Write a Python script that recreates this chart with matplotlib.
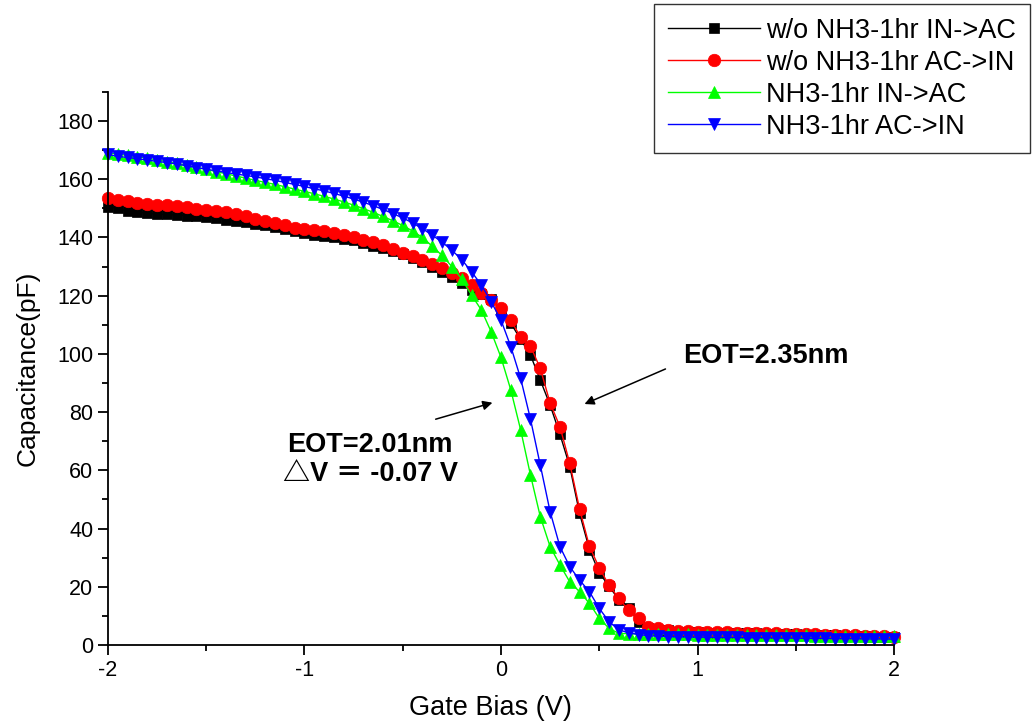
# -*- coding: utf-8 -*-

import numpy as np
import matplotlib
matplotlib.use("Agg")
import matplotlib.pyplot as plt

plt.rcParams['font.family'] = ['Liberation Sans', 'Noto Sans CJK SC', 'DejaVu Sans']
plt.rcParams['axes.unicode_minus'] = False

# gate bias sweep, 0.05 V step
bias = np.round(np.arange(-2.0, 2.0001, 0.05), 2)

wo_in_ac = [150.6, 150.0, 149.0, 148.6, 148.4, 148.0, 147.9, 147.7, 147.5, 147.3,
            147.0, 146.6, 146.0, 145.6, 145.2, 144.6, 144.1, 143.6, 143.0, 142.3,
            141.5, 140.9, 140.5, 140.0, 139.6, 139.0, 138.0, 137.0, 136.2, 135.5,
            134.4, 133.0, 131.5, 129.8, 128.2, 126.3, 124.5, 122.0, 120.5, 118.8,
            115.0, 110.5, 105.0, 99.6, 91.0, 82.4, 72.4, 61.3, 45.2, 32.8,
            24.8, 20.2, 15.5, 12.8, 8.0, 6.0, 5.3, 5.0,
            4.6, 4.5, 4.4, 4.3, 4.3, 4.2, 4.1, 4.0, 4.0, 3.9, 3.8, 3.7, 3.7, 3.6,
            3.5, 3.4, 3.3, 3.2, 3.1, 3.0, 2.9, 2.8, 2.7]

wo_ac_in = [153.4, 153.0, 152.4, 151.8, 151.5, 151.0, 151.2, 150.7, 150.3, 149.6,
            149.3, 149.0, 148.6, 148.0, 147.2, 146.3, 145.5, 144.9, 144.2, 143.4,
            142.9, 142.5, 142.1, 141.6, 140.8, 140.0, 139.2, 138.4, 137.3, 136.0,
            134.6, 133.5, 132.2, 131.0, 129.5, 127.8, 126.0, 123.5, 121.0, 118.5,
            115.6, 111.6, 105.7, 102.7, 95.0, 83.1, 75.0, 62.4, 46.7, 33.9,
            26.5, 20.5, 16.0, 11.9, 9.2, 6.3, 6.0, 5.2,
            4.8, 4.7, 4.6, 4.5, 4.4, 4.4, 4.3, 4.2, 4.1, 4.1, 4.0, 3.9, 3.8, 3.8,
            3.7, 3.6, 3.5, 3.4, 3.3, 3.2, 3.1, 3.0, 2.9]

nh3_in_ac = [169.0, 168.6, 168.2, 167.7, 167.2, 166.6, 166.0, 165.4, 164.8, 164.1,
             163.4, 162.6, 161.9, 161.1, 160.4, 159.6, 158.9, 158.2, 157.4, 156.6,
             155.8, 155.0, 154.1, 153.2, 152.2, 151.1, 149.9, 148.6, 147.2, 145.7,
             144.1, 142.2, 140.0, 137.0, 133.8, 130.0, 125.8, 120.2, 115.1, 107.6,
             98.8, 87.6, 73.9, 58.4, 44.1, 33.8, 27.5, 21.7, 18.3, 14.3,
             9.2, 5.7, 4.0,
             3.9, 3.8, 3.8, 3.8, 3.7, 3.7, 3.7, 3.6, 3.6, 3.6, 3.5, 3.5, 3.5, 3.4,
             3.4, 3.4, 3.3, 3.3, 3.3, 3.2, 3.2, 3.2, 3.1, 3.1, 3.1, 3.0, 3.0, 3.0]

nh3_ac_in = [168.5, 167.8, 167.5, 167.0, 166.6, 166.1, 165.7, 165.2, 164.6, 164.0,
             163.4, 162.9, 162.3, 161.8, 161.3, 160.8, 160.2, 159.6, 158.9, 158.2,
             157.5, 156.7, 156.0, 155.1, 154.2, 153.2, 152.1, 150.9, 149.6, 148.2,
             146.7, 145.0, 143.0, 140.8, 138.4, 135.6, 132.4, 128.2, 123.7, 117.9,
             111.6, 102.5, 91.6, 77.6, 61.8, 45.8, 33.8, 26.9, 22.3, 18.3,
             12.6, 8.0, 5.2,
             4.2, 3.6, 3.2, 3.0, 2.9, 2.8, 2.8, 2.7, 2.7, 2.6, 2.6, 2.6, 2.5, 2.5,
             2.5, 2.4, 2.4, 2.4, 2.3, 2.3, 2.3, 2.2, 2.2, 2.2, 2.1, 2.1, 2.1, 2.0]

labels = ["w/o NH3-1hr IN->AC", "w/o NH3-1hr AC->IN", "NH3-1hr IN->AC", "NH3-1hr AC->IN"]
colors = ["black", "#ff0000", "#00ff00", "#0000ff"]
markers = ["s", "o", "^", "v"]
sizes = [7.5, 9, 9, 9]

fig = plt.figure(figsize=(10.35, 7.25), dpi=100)
ax = fig.add_axes([0.1043, 0.1103, 0.7595, 0.763])

for ys, lab, c, m, s in zip([wo_in_ac, wo_ac_in, nh3_in_ac, nh3_ac_in], labels, colors, markers, sizes):
    ax.plot(bias, ys, color=c, lw=1, marker=m, ms=s, mfc=c, mec=c, mew=0.5,
            label=lab, clip_on=False)

ax.set_xlim(-2, 2)
ax.set_ylim(0, 190)
ax.set_xticks([-2, -1, 0, 1, 2])
ax.set_xticks([-1.5, -0.5, 0.5, 1.5], minor=True)
ax.set_yticks(np.arange(0, 181, 20))
ax.set_yticks(np.arange(10, 191, 20), minor=True)
ax.tick_params(which='major', direction='out', length=7, width=1.3, labelsize=15.5)
ax.tick_params(which='minor', direction='out', length=4, width=1.3)
ax.spines['top'].set_visible(False)
ax.spines['right'].set_visible(False)
ax.spines['left'].set_linewidth(1.3)
ax.spines['bottom'].set_linewidth(1.3)

ax.set_xlabel("Gate Bias (V)", fontsize=19.5, labelpad=10)
ax.xaxis.set_label_coords(0.486, -0.09)
ax.set_ylabel("Capacitance(pF)", fontsize=19, labelpad=13)

# annotations
ax.annotate("", xy=(0.412, 82.4), xytext=(0.85, 95.2),
            arrowprops=dict(arrowstyle="-|>", color="black", lw=1.1, mutation_scale=14))
ax.annotate("", xy=(-0.03, 83.5), xytext=(-0.346, 77.3),
            arrowprops=dict(arrowstyle="-|>", color="black", lw=1.1, mutation_scale=14))
ax.text(0.926, 99.3, "EOT=2.35nm", fontsize=19.5, fontweight='bold', va='center', ha='left')
ax.text(-1.089, 68.6, "EOT=2.01nm", fontsize=19.5, fontweight='bold', va='center', ha='left')
ax.text(-1.109, 58.6, "\u25b3V \uff1d -0.07 V", fontsize=19.5, fontweight='bold', va='center', ha='left')

leg = fig.legend(loc='upper right', bbox_to_anchor=(0.995, 0.994), fontsize=19.5,
                 frameon=True, fancybox=False, edgecolor='black', handlelength=3.4,
                 handletextpad=0.25, labelspacing=0.22, borderpad=0.5, borderaxespad=0)
leg.get_frame().set_linewidth(1.0)

fig.savefig("out.png", dpi=100)
